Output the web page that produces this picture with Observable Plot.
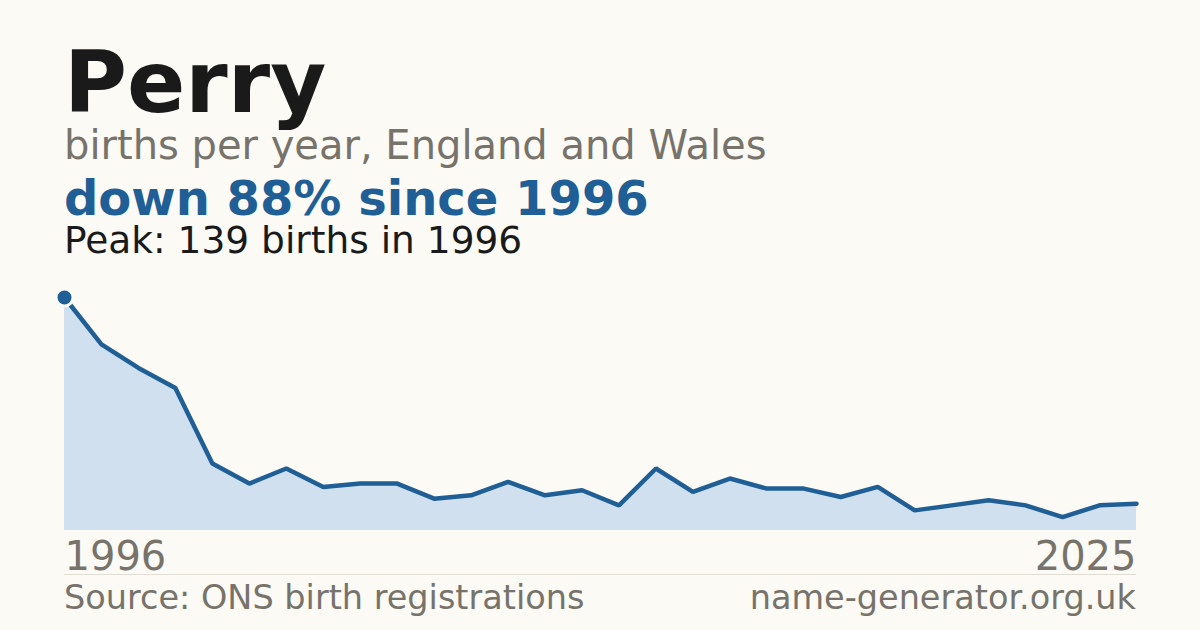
<!DOCTYPE html>
<html>
<head>
<meta charset="utf-8">
<script src="https://cdn.jsdelivr.net/npm/d3@7"></script>
<script src="https://cdn.jsdelivr.net/npm/@observablehq/plot@0.6"></script>
<style>
  html, body { margin: 0; padding: 0; }
  body { width: 1200px; height: 630px; background: #fbfaf5; position: relative; overflow: hidden; font-family: "DejaVu Sans", sans-serif; }
  .t { position: absolute; left: 64px; line-height: 0.8; white-space: nowrap; }
  #chart { position: absolute; left: 0; top: 280px; }
  #sep { position: absolute; left: 64px; top: 574px; width: 1072px; height: 1px; background: #e0ddd5; }
</style>
</head>
<body>
<div class="t" style="top:48px;font-size:86px;font-weight:bold;color:#1a1a1a;">Perry</div>
<div class="t" style="top:129px;font-size:40px;color:#77736b;">births per year, England and Wales</div>
<div class="t" style="top:179px;font-size:48px;font-weight:bold;color:#1f5f96;">down 88% since 1996</div>
<div class="t" style="top:225px;font-size:37.5px;color:#1a1a1a;">Peak: 139 births in 1996</div>
<div id="chart"></div>
<div id="sep"></div>
<div class="t" style="top:585px;font-size:33.5px;color:#77736b;">Source: ONS birth registrations</div>
<div class="t" style="top:585px;left:auto;right:64px;font-size:33.5px;color:#77736b;">name-generator.org.uk</div>
<script>
const years = [1996,1997,1998,1999,2000,2001,2002,2003,2004,2005,2006,2007,2008,2009,2010,2011,2012,2013,2014,2015,2016,2017,2018,2019,2020,2021,2022,2023,2024,2025];
const births = [139,111,97,85,40,28,37,26,28,28,19,21,29,21,24,15,37,23,31,25,25,20,26,12,15,18,15,8,15,16];
const tickStart = [1996];
const tickEnd = [2025];
const peak = [{year: 1996, births: 139}];

const data = years.map((y, i) => ({year: y, births: births[i]}));

const chart = Plot.plot({
  width: 1200,
  height: 300,
  marginLeft: 64,
  marginRight: 64,
  marginTop: 17,
  marginBottom: 50,
  style: {fontFamily: "DejaVu Sans, sans-serif", background: "transparent", overflow: "visible"},
  x: {domain: [1996, 2025], axis: null},
  y: {domain: [0, 139], axis: null},
  marks: [
    Plot.areaY(data, {x: "year", y: "births", fill: "#d0e0ef"}),
    Plot.lineY(data, {x: "year", y: "births", stroke: "#1f5f96", strokeWidth: 4.5, strokeLinejoin: "miter"}),
    Plot.dot(peak, {x: "year", y: "births", r: 8.5, fill: "#1f5f96", stroke: "#fbfaf5", strokeWidth: 3}),
    Plot.text(tickStart, {x: d => d, frameAnchor: "bottom", lineAnchor: "top", dy: 11, textAnchor: "start", text: d => String(d), fontSize: 40, fill: "#77736b"}),
    Plot.text(tickEnd, {x: d => d, frameAnchor: "bottom", lineAnchor: "top", dy: 11, textAnchor: "end", text: d => String(d), fontSize: 40, fill: "#77736b"})
  ]
});
document.getElementById("chart").appendChild(chart);
</script>
</body>
</html>
